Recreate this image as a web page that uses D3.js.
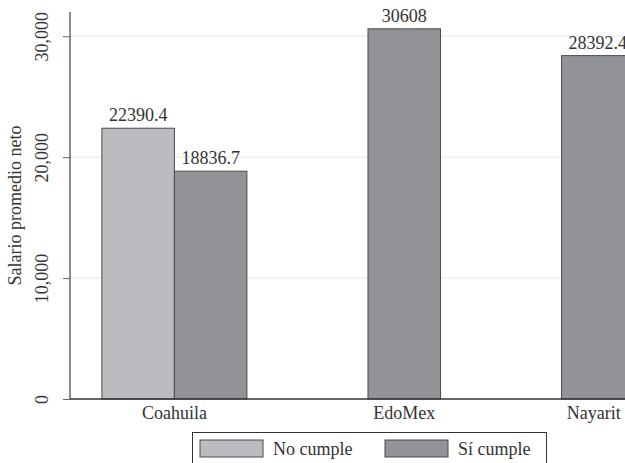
<!DOCTYPE html>
<html>
<head>
<meta charset="utf-8">
<script src="https://cdn.jsdelivr.net/npm/d3@7"></script>
<style>
  body { margin: 0; background: #fff; }
</style>
</head>
<body>
<div id="chart"></div>
<script>
const estados = ["Coahuila", "EdoMex", "Nayarit"];
const series = ["No cumple", "Sí cumple"];
const noCumple = [22390.4, null, null];
const siCumple = [18836.7, 30608, 28392.4];
const yTicks = [0, 10000, 20000, 30000];

const W = 625, H = 463;
const colores = { "No cumple": "#bbbcc0", "Sí cumple": "#929397" };

const svg = d3.select("#chart").append("svg")
  .attr("width", W).attr("height", H);

function estilo(sel) {
  sel.attr("font-family", "'Liberation Serif'")
    .attr("font-size", 18)
    .attr("fill", "#333");
}

// y scale
const y = d3.scaleLinear().domain([0, 32000]).range([399, 12]);

// bars in "bar units": left pad, bar = 1, gap between groups
const leftPad = 0.44, gap = 1.67;
let bars = [], groups = [], u = leftPad;
estados.forEach(function (e, i) {
  let start = u;
  [noCumple[i], siCumple[i]].forEach(function (v, k) {
    if (v == null) return;
    bars.push({ estado: e, serie: series[k], value: v, u0: u });
    u += 1;
  });
  groups.push({ estado: e, mid: (start + u) / 2 });
  u += gap;
});
const x = d3.scaleLinear().domain([0, 1]).range([70, 142.5]);

// gridlines
svg.append("g").selectAll("line")
  .data(yTicks.filter(t => t > 0))
  .enter().append("line")
  .attr("x1", 70).attr("x2", W)
  .attr("y1", d => y(d)).attr("y2", d => y(d))
  .attr("stroke", "#e6e6e6").attr("stroke-width", 1);

// bars
svg.append("g").selectAll("rect")
  .data(bars)
  .enter().append("rect")
  .attr("x", d => x(d.u0))
  .attr("width", x(1) - x(0))
  .attr("y", d => y(d.value))
  .attr("height", d => y(0) - y(d.value))
  .attr("fill", d => colores[d.serie])
  .attr("stroke", "#4a4a4a").attr("stroke-width", 1);

// value labels
svg.append("g").selectAll("text")
  .data(bars)
  .enter().append("text")
  .attr("x", d => x(d.u0 + 0.5))
  .attr("y", d => y(d.value) - 7)
  .attr("text-anchor", "middle")
  .call(estilo)
  .text(d => String(d.value));

// y axis
const yAxis = svg.append("g")
  .attr("transform", "translate(70,0)")
  .call(d3.axisLeft(y).tickValues(yTicks).tickSize(7).tickFormat(d3.format(",")));
yAxis.select(".domain").attr("stroke", "#666").attr("stroke-width", 1.5)
  .attr("d", "M0," + y(32000) + "V" + y(0));
yAxis.selectAll(".tick line").attr("stroke", "#666");
yAxis.selectAll(".tick text")
  .attr("transform", "rotate(-90)")
  .attr("x", 0).attr("y", -22)
  .attr("dy", 0)
  .attr("text-anchor", "middle")
  .call(estilo);

// x baseline
svg.append("line")
  .attr("x1", 70).attr("x2", W)
  .attr("y1", y(0)).attr("y2", y(0))
  .attr("stroke", "#333").attr("stroke-width", 1.5);

// category labels
svg.append("g").selectAll("text")
  .data(groups)
  .enter().append("text")
  .attr("x", d => x(d.mid) - (d.estado === "Nayarit" ? 4 : 0))
  .attr("y", 419)
  .attr("text-anchor", "middle")
  .call(estilo)
  .text(d => d.estado);

// y title
svg.append("text")
  .attr("transform", "translate(21," + ((y(0) + y(32000)) / 2) + ") rotate(-90)")
  .attr("text-anchor", "middle")
  .call(estilo)
  .text("Salario promedio neto");

// legend
const lg = svg.append("g");
lg.append("rect")
  .attr("x", 192.5).attr("y", 432.5).attr("width", 354).attr("height", 40)
  .attr("fill", "#fff").attr("stroke", "#333").attr("stroke-width", 1);
const lx = [200, 385];
series.forEach(function (s, i) {
  lg.append("rect")
    .attr("x", lx[i]).attr("y", 440).attr("width", 63).attr("height", 17)
    .attr("fill", colores[s]).attr("stroke", "#4a4a4a");
  lg.append("text")
    .attr("x", lx[i] + 73).attr("y", 455)
    .call(estilo)
    .text(s);
});
</script>
</body>
</html>
